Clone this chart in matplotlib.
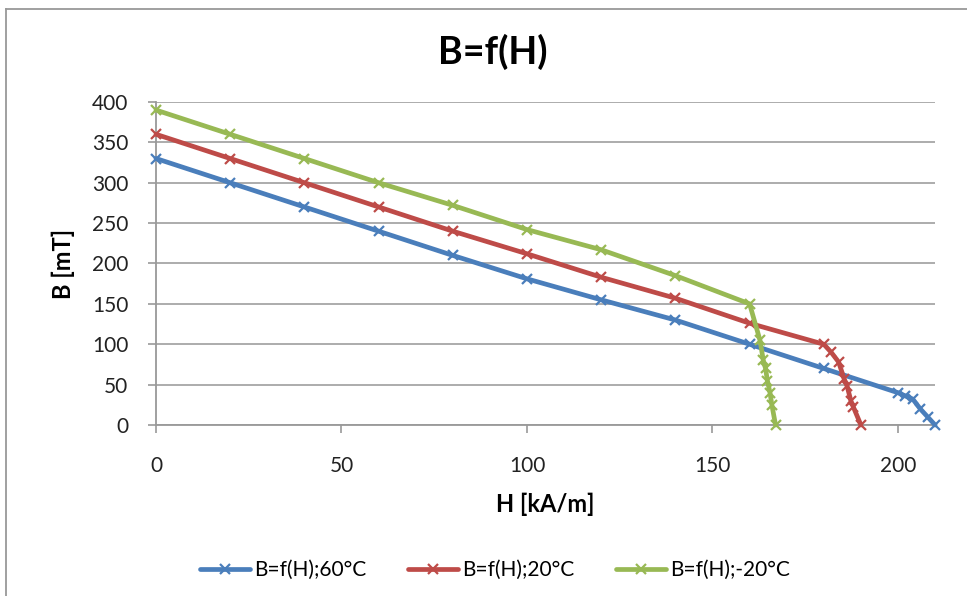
import matplotlib
matplotlib.use("Agg")
import matplotlib.pyplot as plt
from matplotlib.lines import Line2D

plt.rcParams['font.family'] = ['Lato', 'DejaVu Sans']

# H [kA/m] and B [mT] for each temperature
h_60 = [0, 20, 40, 60, 80, 100, 120, 140, 160, 180, 200, 202, 204, 206, 208, 210]
b_60 = [330, 300, 270, 240, 210, 181, 155, 130, 100, 70, 40, 36, 32, 20, 10, 0]

h_20 = [0, 20, 40, 60, 80, 100, 120, 140, 160, 180, 182, 184, 185.5, 186.3, 187.3, 188, 190]
b_20 = [360, 330, 300, 270, 240, 212, 183, 157, 126, 100, 90, 78, 57, 48, 30, 22, 0]

h_m20 = [0, 20, 40, 60, 80, 100, 120, 140, 160, 162.8, 163.7, 164.3, 164.8, 165.5, 166, 167]
b_m20 = [390, 360, 330, 300, 272, 242, 217, 185, 150, 105, 80, 70, 55, 40, 25, 0]

series = [
    (h_60, b_60, "B=f(H);60°C", "#4A7EBB"),
    (h_20, b_20, "B=f(H);20°C", "#BE4B48"),
    (h_m20, b_m20, "B=f(H);-20°C", "#98B954"),
]

fig = plt.figure(figsize=(9.67, 5.96), dpi=100)
ax = fig.add_axes([0.1613, 0.2869, 0.8057, 0.542])

for h, b, label, color in series:
    ax.plot(h, b, color=color, lw=3.4, marker='x', ms=7.5, mew=1.6,
            label=label, solid_joinstyle='round', solid_capstyle='round',
            clip_on=False, zorder=3)

ax.set_xlim(0, 210)
ax.set_ylim(0, 400)
ax.set_xticks(range(0, 201, 50))
ax.set_yticks(range(0, 401, 50))
ax.grid(axis='y', color='#A6A6A6', lw=1.3)
ax.set_axisbelow(True)
for s in ['top', 'right']:
    ax.spines[s].set_visible(False)
for s in ['left', 'bottom']:
    ax.spines[s].set_color('#999999')
    ax.spines[s].set_linewidth(1.3)
ax.tick_params(axis='both', colors='#999999', labelcolor='#222222',
               labelsize=15, length=6, width=1.2)
ax.tick_params(axis='x', pad=16)
ax.tick_params(axis='y', pad=14)

fig.text(493 / 967, 1 - 52 / 596, "B=f(H)", fontsize=27, fontweight='bold',
         ha='center', va='center')
ax.set_xlabel("H [kA/m]", fontsize=17, fontweight='bold', labelpad=12)
ax.set_ylabel("B [mT]", fontsize=17, fontweight='bold', labelpad=12)

ax.legend(loc='center', bbox_to_anchor=(495 / 967, 1 - 570 / 596),
          bbox_transform=fig.transFigure, ncol=3, frameon=False, fontsize=15,
          handlelength=2.4, columnspacing=2.0, handletextpad=0.2)

# chart area border (cropped at right/bottom)
fig.add_artist(Line2D([0.006, 0.006], [0, 1 - 9 / 596], color='#999999', lw=1.3))
fig.add_artist(Line2D([0.006, 1], [1 - 9 / 596, 1 - 9 / 596], color='#999999', lw=1.3))

fig.savefig("out.png", dpi=100)
